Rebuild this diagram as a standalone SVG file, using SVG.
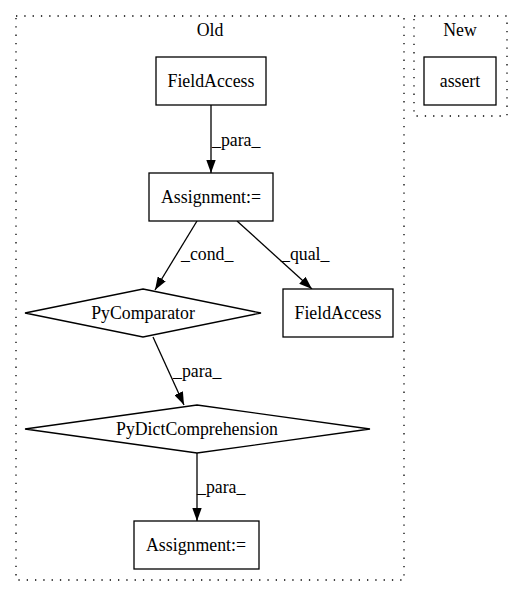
<svg xmlns="http://www.w3.org/2000/svg" width="528" height="596" viewBox="0 0 528 596" font-family="'Liberation Serif', 'Times New Roman', serif">
<style>
text{font-family:"Liberation Serif","Times New Roman",serif;font-size:17.8px;fill:#000}
.c{text-anchor:middle}
.n{fill:#fff;stroke:#000;stroke-width:1.3}
.cl{fill:none;stroke:#000;stroke-width:1.3;stroke-dasharray:1.3,7}
.e{fill:none;stroke:#000;stroke-width:1.3}
</style>
<defs>
<marker id="a" viewBox="0 0 13 9.4" refX="13" refY="4.7" markerWidth="13" markerHeight="9.4" markerUnits="userSpaceOnUse" orient="auto">
<path d="M0,0L13,4.7L0,9.4z" fill="#000"/>
</marker>
</defs>
<rect width="528" height="596" fill="#fff"/>
<g id="cluster_old">
<rect class="cl" x="16" y="16" width="388" height="564"/>
<text class="c" x="210" y="36">Old</text>
</g>
<g id="cluster_new">
<rect class="cl" x="414" y="16" width="93" height="100"/>
<text class="c" x="460" y="36">New</text>
</g>
<g id="edges">
<path class="e" d="M211,105L211,173" marker-end="url(#a)"/>
<text x="212" y="146">_para_</text>
<path class="e" d="M197,221L155,290" marker-end="url(#a)"/>
<text x="181" y="260">_cond_</text>
<path class="e" d="M237,221L312,289" marker-end="url(#a)"/>
<text x="281" y="260">_qual_</text>
<path class="e" d="M153,337L184,405" marker-end="url(#a)"/>
<text x="173" y="377">_para_</text>
<path class="e" d="M197,453L197,521" marker-end="url(#a)"/>
<text x="197" y="493">_para_</text>
</g>
<g id="n_assert">
<rect class="n" x="424" y="57" width="72" height="48"/>
<text class="c" x="460" y="87">assert</text>
</g>
<g id="n_fa1">
<rect class="n" x="156" y="57" width="110" height="48"/>
<text class="c" x="211" y="87">FieldAccess</text>
</g>
<g id="n_as1">
<rect class="n" x="149" y="173" width="124" height="48"/>
<text class="c" x="211" y="203">Assignment:=</text>
</g>
<g id="n_cmp">
<polygon class="n" points="143,289 261,313 143,337 25,313"/>
<text class="c" x="143" y="319">PyComparator</text>
</g>
<g id="n_fa2">
<rect class="n" x="283" y="289" width="110" height="48"/>
<text class="c" x="338" y="319">FieldAccess</text>
</g>
<g id="n_dict">
<polygon class="n" points="197,405 370,429 197,453 25,429"/>
<text class="c" x="197" y="435">PyDictComprehension</text>
</g>
<g id="n_as2">
<rect class="n" x="134" y="521" width="125" height="48"/>
<text class="c" x="196" y="551">Assignment:=</text>
</g>
</svg>
